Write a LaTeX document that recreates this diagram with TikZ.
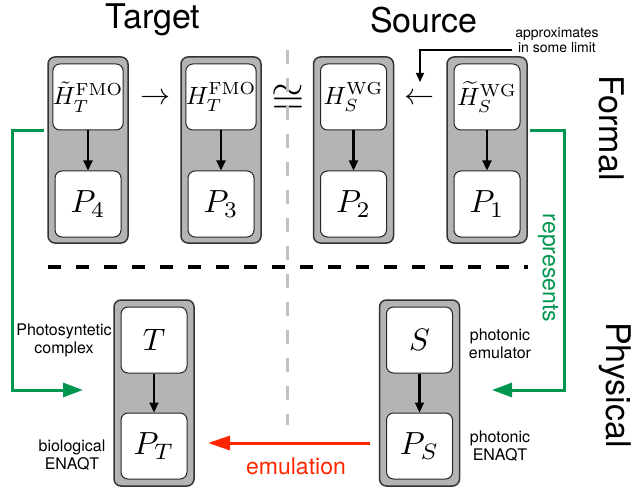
\documentclass[tikz,border=0pt]{standalone}
\usepackage{graphicx}
\usepackage{amsmath}
\usepackage{fontspec}
\newfontfamily\hv{TeX Gyre Heros}
\usetikzlibrary{arrows.meta}
\definecolor{boxgray}{RGB}{180,180,180}
\definecolor{grn}{RGB}{0,150,80}
\definecolor{rd}{RGB}{255,38,0}
\definecolor{dgray}{RGB}{192,192,192}
\newcommand\msc[2]{\scalebox{#1}{#2}}
\tikzset{
  outer/.style={draw=black!80, fill=boxgray, line width=1.5pt, rounded corners=7pt, minimum width=80pt, minimum height=186pt, inner sep=0pt},
  inner/.style={draw=black!85, fill=white, line width=1pt, rounded corners=7pt, minimum width=66pt, minimum height=66pt, inner sep=0pt},
  inarrow/.style={line width=2.2pt, -{Triangle[length=10pt,width=9pt]}},
  heading/.style={font=\hv\fontsize{34}{40}\selectfont, inner sep=0pt},
  lab/.style={font=\hv\fontsize{16}{18}\selectfont, align=center, inner sep=0pt},
  grnarrow/.style={draw=grn, line width=3pt, -{Triangle[length=20pt,width=14pt]}},
  redarrow/.style={draw=rd, line width=3pt, -{Triangle[length=22pt,width=14pt]}},
}
\begin{document}
\begin{tikzpicture}[x=1pt,y=-1pt]
\useasboundingbox (0,0) rectangle (633,487);
% top boxes
\node[outer] (o4) at (88,150) {};
\node[outer] (o3) at (221,150) {};
\node[outer] (o2) at (353.5,150) {};
\node[outer] (o1) at (487,150) {};
\node[inner] (h4) at (88,97) {\msc{2.5}{$\tilde H_T^{\mathrm{FMO}}$}};
\node[inner] (p4) at (88,204) {\msc{3.2}{$P_4$}};
\node[inner] (h3) at (221,97) {\msc{2.5}{$H_T^{\mathrm{FMO}}$}};
\node[inner] (p3) at (221,204) {\msc{3.2}{$P_3$}};
\node[inner] (h2) at (353.5,97) {\msc{2.5}{$H_S^{\mathrm{WG}}$}};
\node[inner] (p2) at (353.5,204) {\msc{3.2}{$P_2$}};
\node[inner] (h1) at (487,97) {\msc{2.5}{$\widetilde H_S^{\mathrm{WG}}$}};
\node[inner] (p1) at (487,204) {\msc{3.2}{$P_1$}};
\foreach \a/\b in {h4/p4,h3/p3,h2/p2,h1/p1} \draw[inarrow] (\a) -- (\b);
% bottom boxes
\node[outer] (ot) at (154,393) {};
\node[outer] (os) at (419.5,393) {};
\node[inner] (t) at (154,340) {\msc{3.1}{$T$}};
\node[inner] (pt) at (154,446) {\msc{3.2}{$P_T$}};
\node[inner] (s) at (419.5,340) {\msc{3.1}{$S$}};
\node[inner] (ps) at (419.5,446) {\msc{3.2}{$P_S$}};
\draw[inarrow] (t) -- (pt);
\draw[inarrow] (s) -- (ps);
% symbols between boxes
\node (ra) at (155,99) {\msc{3}{$\rightarrow$}};
\node (la) at (419,99) {\msc{3}{$\leftarrow$}};
\node (cong) at (288,99) {\msc{4.2}{$\cong$}};
% dividers
\coordinate (gtop) at (287,50);
\coordinate (gbot) at (287,425);
\draw[dgray, line width=3pt, dash pattern=on 14pt off 14pt] (gtop) -- (gbot);
\coordinate (dl) at (48,267);
\coordinate (dr) at (528,267);
\draw[black, line width=3.5pt, dash pattern=on 13pt off 15pt] (dl) -- (dr);
% headings
\node[heading] (tg) at (153,20) {Target};
\node[heading] (src) at (424,20) {Source};
\node[heading, rotate=-90] (formal) at (612,128) {Formal};
\node[heading, rotate=-90] (phys) at (615,385) {Physical};
% approximates
\node[font=\hv\fontsize{14}{15}\selectfont, align=center, inner sep=0pt] (apx) at (557,40) {approximates\\in some limit};
\coordinate (apxs) at (512,50);
\coordinate (apxe) at (420,82);
\draw[line width=1.4pt, -{Triangle[length=9pt,width=8pt]}] (apxs) -| (apxe);
% green represents
\coordinate (gl1) at (44,131);
\coordinate (gl2) at (12,390);
\coordinate (gl3) at (83,390);
\draw[grnarrow] (gl1) -| (gl2) -- (gl3);
\coordinate (gr1) at (530,131);
\coordinate (gr2) at (564,390);
\coordinate (gr3) at (492,390);
\draw[grnarrow] (gr1) -| (gr2) -- (gr3);
\node[font=\hv\fontsize{23}{26}\selectfont, text=grn, rotate=-90, inner sep=0pt] (rep) at (548,268) {represents};
% emulation
\coordinate (e1) at (370,443);
\coordinate (e2) at (208,443);
\draw[redarrow] (e1) -- (e2);
\node[font=\hv\fontsize{23}{26}\selectfont, text=rd, inner sep=0pt] (emu) at (296,466) {emulation};
% labels
\node[lab] (lphoto) at (64,340) {Photosyntetic\\complex};
\node[lab] (lbio) at (72,455) {biological\\ENAQT};
\node[lab] (lpe) at (500,344) {photonic\\emulator};
\node[lab] (lpn) at (500,446) {photonic\\ENAQT};
\end{tikzpicture}
\end{document}
